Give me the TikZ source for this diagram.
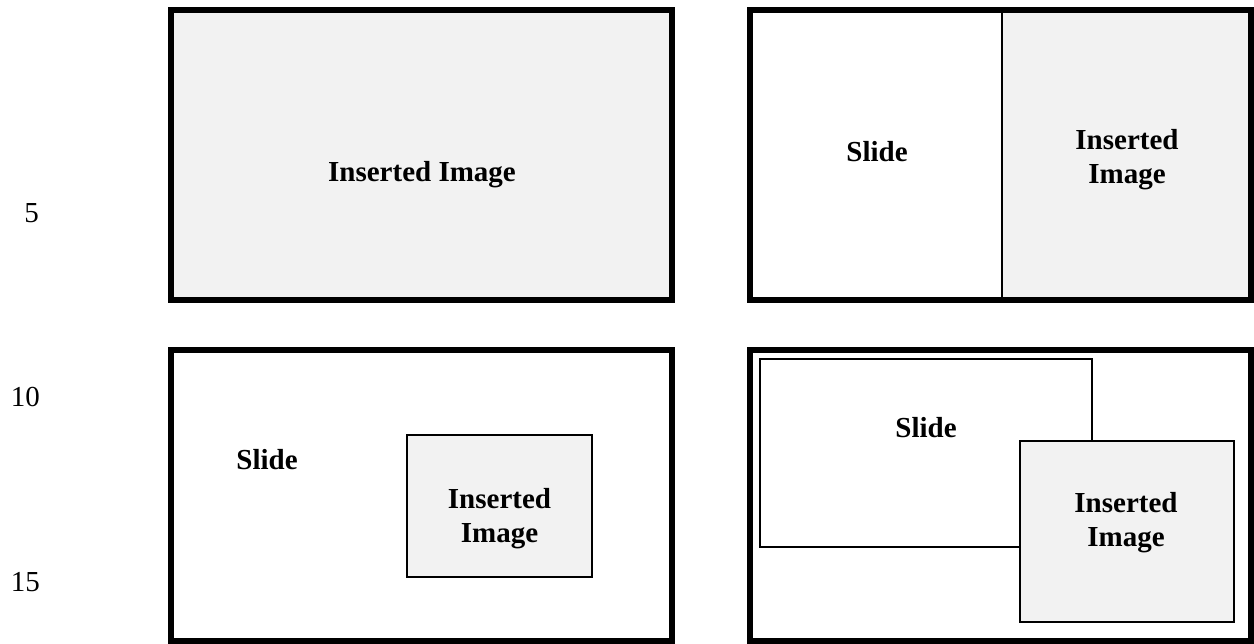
\documentclass[tikz,border=0pt]{standalone}
\usepackage{fontspec}
\setmainfont{Liberation Serif}
\definecolor{imgfill}{HTML}{F2F2F2}
\begin{document}
\begin{tikzpicture}[x=1pt,y=-1pt,
  frame/.style={draw=black,line width=6pt,rectangle,inner sep=0pt,outer sep=0pt},
  thinbox/.style={draw=black,line width=2pt,rectangle,inner sep=0pt,outer sep=0pt},
  lbl/.style={font=\fontsize{29}{34}\selectfont\bfseries,align=center,inner sep=0pt},
  num/.style={font=\fontsize{29}{34}\selectfont,anchor=east,inner sep=0pt}]
\useasboundingbox (0,0) rectangle (1254,644);
% line numbers
\node[num] (n5) at (39,213) {5};
\node[num] (n10) at (40,397) {10};
\node[num] (n15) at (40,582) {15};
% top-left
\node[frame,fill=imgfill,minimum width=501pt,minimum height=290pt] (tl) at (421.5,155) {};
\node[lbl] (tlt) at (422,175) {Inserted Image};
% top-right
\fill[imgfill] (1002,10) rectangle (1251,300);
\node[frame,minimum width=501pt,minimum height=290pt] (tr) at (1000.5,155) {};
\coordinate (divt) at (1002,10);
\coordinate (divb) at (1002,300);
\draw[line width=1.8pt] (divt) -- (divb);
\node[lbl] (trs) at (877,152) {Slide};
\node[lbl] (tri) at (1127,160) {Inserted\\Image};
% bottom-left
\node[frame,minimum width=501pt,minimum height=291pt] (bl) at (421.5,495.5) {};
\node[thinbox,fill=imgfill,minimum width=185pt,minimum height=142pt] (bli) at (499.5,506) {};
\node[lbl] (bls) at (267,460) {Slide};
\node[lbl] (blt) at (499.5,519) {Inserted\\Image};
% bottom-right
\node[frame,minimum width=501pt,minimum height=291pt] (br) at (1000.5,495.5) {};
\node[thinbox,minimum width=332pt,minimum height=188pt] (brs) at (926,453) {};
\node[thinbox,fill=imgfill,minimum width=214pt,minimum height=181pt] (bri) at (1127,531.5) {};
\node[lbl] (brst) at (926,428) {Slide};
\node[lbl] (brit) at (1126,523) {Inserted\\Image};
\end{tikzpicture}
\end{document}
